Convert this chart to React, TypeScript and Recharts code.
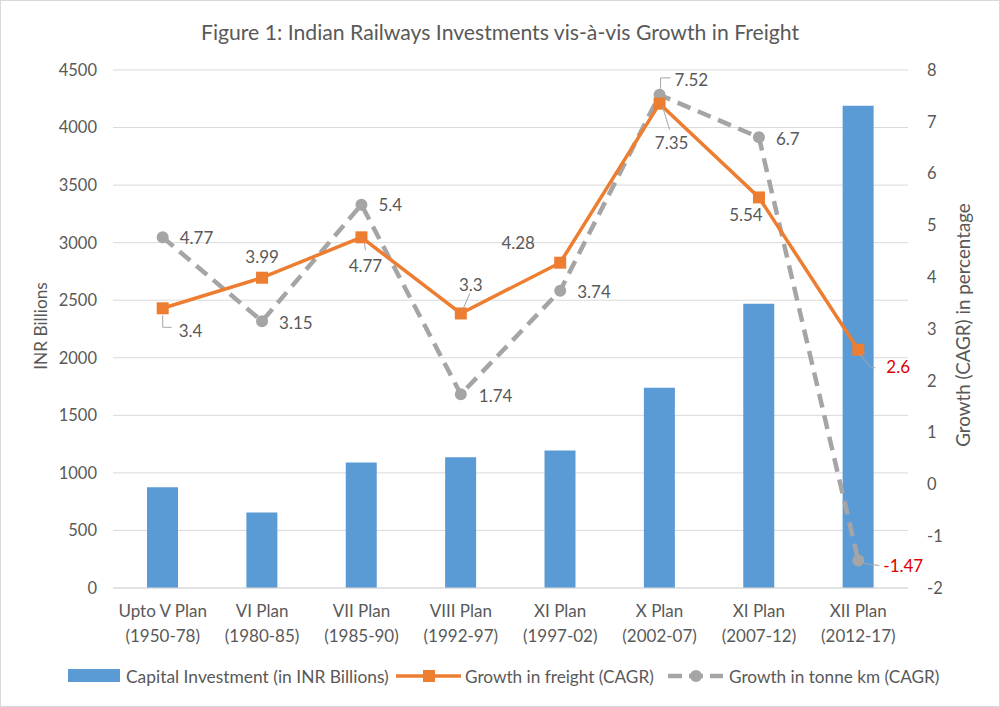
import { Bar, CartesianGrid, ComposedChart, LabelList, Line, XAxis, YAxis } from 'recharts';

// Plan quinquenal y periodo (dos líneas en el eje X)
const categories = [
  'Upto V Plan',
  'VI Plan',
  'VII Plan',
  'VIII Plan',
  'XI Plan',
  'X Plan',
  'XI Plan',
  'XII Plan',
];
const periods = [
  '(1950-78)',
  '(1980-85)',
  '(1985-90)',
  '(1992-97)',
  '(1997-02)',
  '(2002-07)',
  '(2007-12)',
  '(2012-17)',
];
const capitalInvestment = [875, 655, 1090, 1135, 1195, 1740, 2470, 4190];
const freightGrowth = [3.4, 3.99, 4.77, 3.3, 4.28, 7.35, 5.54, 2.6];
const tonneKmGrowth = [4.77, 3.15, 5.4, 1.74, 3.74, 7.52, 6.7, -1.47];
const leftTicks = [0, 500, 1000, 1500, 2000, 2500, 3000, 3500, 4000, 4500];
const rightTicks = [-2, -1, 0, 1, 2, 3, 4, 5, 6, 7, 8];

const datos = categories.map((plan, i) => ({
  plan,
  periodo: periods[i],
  inversion: capitalInvestment[i],
  flete: freightGrowth[i],
  tonKm: tonneKmGrowth[i],
}));

const FUENTE = 'Lato, "Open Sans", sans-serif';
const TINTA = '#595959';
const AZUL = '#5B9BD5';
const NARANJA = '#ED7D31';
const GRIS = '#A5A5A5';
const ROJO = '#E00000';

type Colocacion = {
  dx: number;
  dy: number;
  anchor: 'start' | 'middle' | 'end';
  leader?: number[][];
  rojo?: boolean;
};

// posición de cada etiqueta respecto a su punto (estilo, no datos)
const etiquetasFlete: Colocacion[] = [
  { dx: 16, dy: 22, anchor: 'start', leader: [[0, 7], [0, 19], [9, 19]] },
  { dx: 0, dy: -21, anchor: 'middle' },
  { dx: 4, dy: 28, anchor: 'middle', leader: [[3, 6], [4, 13]] },
  { dx: 10, dy: -29, anchor: 'middle', leader: [[2, -4], [9, -20]] },
  { dx: -42, dy: -20, anchor: 'middle' },
  { dx: 12, dy: 39, anchor: 'middle', leader: [[3, 3], [10, 26]] },
  { dx: -13, dy: 17, anchor: 'middle' },
  { dx: 28, dy: 17, anchor: 'start', leader: [[1, 4], [13, 18], [17, 18]], rojo: true },
];

const etiquetasTonKm: Colocacion[] = [
  { dx: 17, dy: 0, anchor: 'start' },
  { dx: 17, dy: 1, anchor: 'start' },
  { dx: 17, dy: 0, anchor: 'start' },
  { dx: 18, dy: 1, anchor: 'start' },
  { dx: 17, dy: 1, anchor: 'start' },
  { dx: 15, dy: -15, anchor: 'start', leader: [[1, -6], [1, -17], [11, -17]] },
  { dx: 17, dy: 1, anchor: 'start' },
  { dx: 25, dy: 5, anchor: 'start', leader: [[6, 3], [21, 5]], rojo: true },
];

function etiqueta(colocaciones: Colocacion[]) {
  return (props: any) => {
    const { x, y, value, index } = props;
    const c = colocaciones[index];
    if (!c || x == null || y == null) return null;
    return (
      <g key={`et-${index}`}>
        {c.leader && (
          <polyline
            points={c.leader.map(([px, py]) => `${x + px},${y + py}`).join(' ')}
            fill="none"
            stroke="#A6A6A6"
            strokeWidth={1}
          />
        )}
        <text
          x={x + c.dx}
          y={y + c.dy}
          textAnchor={c.anchor}
          dominantBaseline="central"
          fontFamily={FUENTE}
          fontSize={17}
          fill={c.rojo ? ROJO : TINTA}
        >
          {String(value)}
        </text>
      </g>
    );
  };
}

function Cuadrado(props: any) {
  const { cx, cy, index } = props;
  if (cx == null || cy == null) return <g key={`c-${index}`} />;
  return <rect key={`c-${index}`} x={cx - 6} y={cy - 6} width={12} height={12} fill={NARANJA} />;
}

function Circulo(props: any) {
  const { cx, cy, index } = props;
  if (cx == null || cy == null) return <g key={`o-${index}`} />;
  return <circle key={`o-${index}`} cx={cx} cy={cy} r={6} fill={GRIS} />;
}

function TickPlan(props: any) {
  const { x, y, payload, index } = props;
  return (
    <g>
      <text x={x} y={y + 22} textAnchor="middle" dominantBaseline="central" fontFamily={FUENTE} fontSize={17} fill={TINTA}>
        {payload.value}
      </text>
      <text x={x} y={y + 47} textAnchor="middle" dominantBaseline="central" fontFamily={FUENTE} fontSize={17} fill={TINTA}>
        {periods[index]}
      </text>
    </g>
  );
}

export default function App() {
  return (
    <div style={{ position: 'absolute', left: 0, top: 0, width: 1000, height: 707, background: '#fff' }}>
      <ComposedChart
        width={1000}
        height={707}
        data={datos}
        margin={{ top: 70, right: 0, bottom: 0, left: 0 }}
      >
        <CartesianGrid stroke="#D9D9D9" vertical={false} yAxisId="izq" />
        <XAxis
          dataKey="plan"
          height={119}
          axisLine={{ stroke: '#D9D9D9' }}
          tickLine={false}
          tickSize={0}
          tickMargin={0}
          interval={0}
          tick={<TickPlan />}
        />
        <YAxis
          yAxisId="izq"
          width={113}
          domain={[0, 4500]}
          ticks={leftTicks}
          interval={0}
          axisLine={false}
          tickLine={false}
          tickSize={0}
          tickMargin={16}
          tick={{ fill: TINTA, fontSize: 16.5, fontFamily: FUENTE }}
        />
        <YAxis
          yAxisId="der"
          orientation="right"
          width={92}
          domain={[-2, 8]}
          ticks={rightTicks}
          interval={0}
          axisLine={false}
          tickLine={false}
          tickSize={0}
          tickMargin={19}
          tick={{ fill: TINTA, fontSize: 16.5, fontFamily: FUENTE, textAnchor: 'start' }}
        />
        <Bar yAxisId="izq" dataKey="inversion" fill={AZUL} barSize={31} isAnimationActive={false} />
        <Line
          yAxisId="der"
          type="linear"
          dataKey="tonKm"
          stroke={GRIS}
          strokeWidth={4.5}
          strokeDasharray="14 8"
          dot={(p: any) => <Circulo {...p} />}
          activeDot={false}
          isAnimationActive={false}
        >
          <LabelList dataKey="tonKm" content={etiqueta(etiquetasTonKm)} />
        </Line>
        <Line
          yAxisId="der"
          type="linear"
          dataKey="flete"
          stroke={NARANJA}
          strokeWidth={3.5}
          dot={(p: any) => <Cuadrado {...p} />}
          activeDot={false}
          isAnimationActive={false}
        >
          <LabelList dataKey="flete" content={etiqueta(etiquetasFlete)} />
        </Line>
      </ComposedChart>

      {/* título, títulos de ejes y leyenda */}
      <svg
        width={1000}
        height={707}
        style={{ position: 'absolute', left: 0, top: 0, pointerEvents: 'none' }}
        fontFamily={FUENTE}
      >
        <rect x={0.5} y={0.5} width={999} height={706} fill="none" stroke="#D9D9D9" />
        <text x={500} y={32} textAnchor="middle" dominantBaseline="central" fontSize={21.2} fill={TINTA}>
          Figure 1: Indian Railways Investments vis-à-vis Growth in Freight
        </text>
        <text
          transform="translate(40,326) rotate(-90)"
          textAnchor="middle"
          dominantBaseline="central"
          fontSize={17.3}
          fill={TINTA}
        >
          INR Billions
        </text>
        <text
          transform="translate(962,325) rotate(-90)"
          textAnchor="middle"
          dominantBaseline="central"
          fontSize={18.8}
          fill={TINTA}
        >
          Growth (CAGR) in percentage
        </text>

        <rect x={68} y={669} width={52} height={13} fill={AZUL} />
        <text x={126} y={676} dominantBaseline="central" fontSize={17.4} fill={TINTA}>
          Capital Investment (in INR Billions)
        </text>
        <line x1={396} y1={676} x2={461} y2={676} stroke={NARANJA} strokeWidth={3.5} />
        <rect x={423} y={670} width={12} height={12} fill={NARANJA} />
        <text x={465} y={676} dominantBaseline="central" fontSize={17.2} fill={TINTA}>
          Growth in freight (CAGR)
        </text>
        <line x1={668} y1={676} x2={723} y2={676} stroke={GRIS} strokeWidth={4.5} strokeDasharray="14 7" />
        <circle cx={696} cy={676} r={6} fill={GRIS} />
        <text x={729} y={676} dominantBaseline="central" fontSize={17.2} fill={TINTA}>
          Growth in tonne km (CAGR)
        </text>
      </svg>
    </div>
  );
}
